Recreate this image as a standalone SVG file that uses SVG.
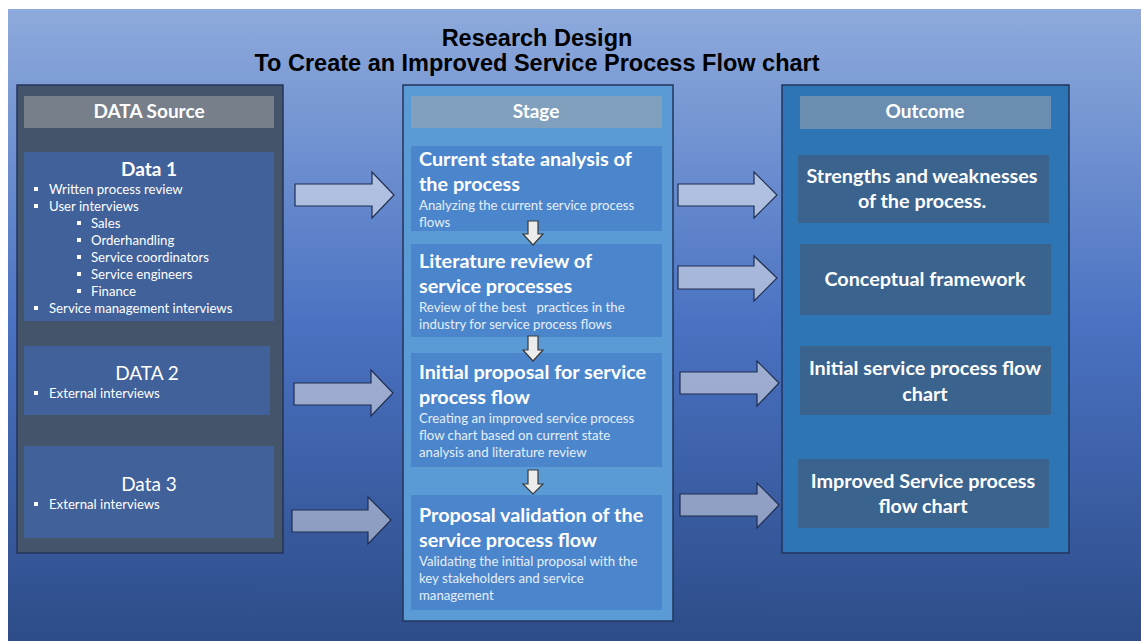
<svg xmlns="http://www.w3.org/2000/svg" width="1141" height="641" viewBox="0 0 1141 641">
  <defs>
    <linearGradient id="bg" x1="0" y1="9" x2="0" y2="641" gradientUnits="userSpaceOnUse">
      <stop offset="0" stop-color="#8eaadc"/>
      <stop offset="0.5" stop-color="#4a72c2"/>
      <stop offset="1" stop-color="#2d4c88"/>
    </linearGradient>
    <linearGradient id="arrowFill" x1="0" y1="170" x2="0" y2="545" gradientUnits="userSpaceOnUse">
      <stop offset="0" stop-color="#b2c2e3"/>
      <stop offset="1" stop-color="#8c9bc0"/>
    </linearGradient>
    <style>
      .panel { stroke: #23355c; stroke-width: 1.5; }
      .src { fill: #44546a; }
      .stg { fill: #5b9bd5; }
      .out { fill: #2e75b6; }
      .hdr-src { fill: #777f8b; }
      .hdr-stg { fill: #80a0bd; }
      .hdr-out { fill: #6b8db0; }
      .box-src { fill: #41619a; }
      .box-stg { fill: #4b86cc; }
      .box-out { fill: #3a638e; }
      text { font-family: Lato, "Liberation Sans", sans-serif; fill: #ffffff; }
      .title { font-family: "Liberation Sans", Arial, sans-serif; font-weight: bold; font-size: 23.5px; fill: #000000; text-anchor: middle; }
      .hdr { font-weight: bold; font-size: 19px; text-anchor: middle; }
      .dhead { font-weight: bold; font-size: 19px; text-anchor: middle; }
      .dhead-n { font-size: 19px; text-anchor: middle; }
      .item { font-size: 13.2px; }
      .stitle { font-weight: bold; font-size: 19.8px; }
      .ssub { font-size: 13.2px; fill: #e6eef8; }
      .otext { font-weight: bold; font-size: 19.8px; text-anchor: middle; }
      .bullet { fill: #ffffff; }
      .big-arrow { fill: url(#arrowFill); stroke: #1f2e50; stroke-width: 1.2; }
      .down-arrow { fill: #ececec; stroke: #3a3a3a; stroke-width: 1.2; }
    </style>
  </defs>

  <!-- slide background -->
  <rect x="8" y="9" width="1133" height="632" fill="url(#bg)"/>

  <!-- title -->
  <g id="title">
    <text class="title" x="537" y="46">Research Design</text>
    <text class="title" x="537" y="71">To Create an Improved Service Process Flow chart</text>
  </g>

  <!-- left column: data sources -->
  <g id="data-source">
    <rect class="panel src" x="17" y="85" width="266" height="468"/>
    <rect class="hdr-src" x="24" y="96" width="250" height="32"/>
    <text class="hdr" x="149" y="118">DATA Source</text>
  </g>

  <g id="data1">
    <rect class="box-src" x="24" y="152" width="250" height="169"/>
    <text class="dhead" x="149" y="176">Data 1</text>
    <rect class="bullet" x="34" y="187" width="4" height="4"/>
    <text class="item" x="49" y="194">Written process review</text>
    <rect class="bullet" x="34" y="204" width="4" height="4"/>
    <text class="item" x="49" y="211">User interviews</text>
    <rect class="bullet" x="77" y="221" width="4" height="4"/>
    <text class="item" x="91" y="228">Sales</text>
    <rect class="bullet" x="77" y="238" width="4" height="4"/>
    <text class="item" x="91" y="245">Orderhandling</text>
    <rect class="bullet" x="77" y="255" width="4" height="4"/>
    <text class="item" x="91" y="262">Service coordinators</text>
    <rect class="bullet" x="77" y="272" width="4" height="4"/>
    <text class="item" x="91" y="279">Service engineers</text>
    <rect class="bullet" x="77" y="289" width="4" height="4"/>
    <text class="item" x="91" y="296">Finance</text>
    <rect class="bullet" x="34" y="306" width="4" height="4"/>
    <text class="item" x="49" y="313">Service management interviews</text>
  </g>

  <g id="data2">
    <rect class="box-src" x="24" y="346" width="246" height="69"/>
    <text class="dhead-n" x="147" y="380">DATA 2</text>
    <rect class="bullet" x="34" y="391" width="4" height="4"/>
    <text class="item" x="49" y="398">External interviews</text>
  </g>

  <g id="data3">
    <rect class="box-src" x="24" y="446" width="250" height="92"/>
    <text class="dhead-n" x="149" y="491">Data 3</text>
    <rect class="bullet" x="34" y="502" width="4" height="4"/>
    <text class="item" x="49" y="509">External interviews</text>
  </g>

  <!-- middle column: stages -->
  <g id="stage">
    <rect class="panel stg" x="403" y="85" width="270" height="536"/>
    <rect class="hdr-stg" x="411" y="96" width="251" height="32"/>
    <text class="hdr" x="536" y="118">Stage</text>
  </g>

  <g id="stage1">
    <rect class="box-stg" x="411" y="146" width="251" height="85"/>
    <text class="stitle" x="419" y="166">Current state analysis of</text>
    <text class="stitle" x="419" y="191">the process</text>
    <text class="ssub" x="419" y="210">Analyzing the current service process</text>
    <text class="ssub" x="419" y="227">flows</text>
  </g>

  <g id="stage2">
    <rect class="box-stg" x="411" y="244" width="251" height="93"/>
    <text class="stitle" x="419" y="268">Literature review of</text>
    <text class="stitle" x="419" y="293">service processes</text>
    <text class="ssub" x="419" y="312" xml:space="preserve">Review of the best   practices in the</text>
    <text class="ssub" x="419" y="329">industry for service process flows</text>
  </g>

  <g id="stage3">
    <rect class="box-stg" x="411" y="353" width="251" height="114"/>
    <text class="stitle" x="419" y="379">Initial proposal for service</text>
    <text class="stitle" x="419" y="404">process flow</text>
    <text class="ssub" x="419" y="423">Creating an improved service process</text>
    <text class="ssub" x="419" y="440">flow chart based on current state</text>
    <text class="ssub" x="419" y="457">analysis and literature review</text>
  </g>

  <g id="stage4">
    <rect class="box-stg" x="411" y="495" width="251" height="115"/>
    <text class="stitle" x="419" y="522">Proposal validation of the</text>
    <text class="stitle" x="419" y="547">service process flow</text>
    <text class="ssub" x="419" y="566">Validating the initial proposal with the</text>
    <text class="ssub" x="419" y="583">key stakeholders and service</text>
    <text class="ssub" x="419" y="600">management</text>
  </g>

  <!-- right column: outcomes -->
  <g id="outcome">
    <rect class="panel out" x="782" y="85" width="287" height="468"/>
    <rect class="hdr-out" x="800" y="96" width="251" height="33"/>
    <text class="hdr" x="925" y="118">Outcome</text>
  </g>

  <g id="outcome1">
    <rect class="box-out" x="798" y="155" width="251" height="68"/>
    <text class="otext" x="922" y="183">Strengths and weaknesses</text>
    <text class="otext" x="922" y="208">of the process.</text>
  </g>

  <g id="outcome2">
    <rect class="box-out" x="800" y="244" width="251" height="71"/>
    <text class="otext" x="925" y="286">Conceptual framework</text>
  </g>

  <g id="outcome3">
    <rect class="box-out" x="800" y="346" width="251" height="69"/>
    <text class="otext" x="925" y="375">Initial service process flow</text>
    <text class="otext" x="925" y="401">chart</text>
  </g>

  <g id="outcome4">
    <rect class="box-out" x="798" y="459" width="251" height="69"/>
    <text class="otext" x="923" y="488">Improved Service process</text>
    <text class="otext" x="923" y="513">flow chart</text>
  </g>

  <!-- connectors -->
  <g id="connectors">
    <!-- data sources to stages -->
    <path class="big-arrow" d="M295,184 H372 V172 L394,195 L372,218 V206 H295 Z"/>
    <path class="big-arrow" d="M294,383 H371 V370 L393,393 L371,416 V405 H294 Z"/>
    <path class="big-arrow" d="M292,510 H368 V497 L391,520 L368,544 V532 H292 Z"/>
    <!-- stages to outcomes -->
    <path class="big-arrow" d="M678,184 H754 V172 L777,195 L754,218 V206 H678 Z"/>
    <path class="big-arrow" d="M678,266 H754 V256 L777,278 L754,301 V289 H678 Z"/>
    <path class="big-arrow" d="M680,372 H757 V361 L779,383 L757,406 V394 H680 Z"/>
    <path class="big-arrow" d="M680,494 H757 V483 L779,505 L757,528 V516 H680 Z"/>
    <!-- between stages -->
    <path class="down-arrow" d="M528,221 H538 V234 H543 L533,245 L523,234 H528 Z"/>
    <path class="down-arrow" d="M528,336 H538 V350 H543 L533,361 L523,350 H528 Z"/>
    <path class="down-arrow" d="M528,470 H538 V484 H543 L533,494 L523,484 H528 Z"/>
  </g>
</svg>
